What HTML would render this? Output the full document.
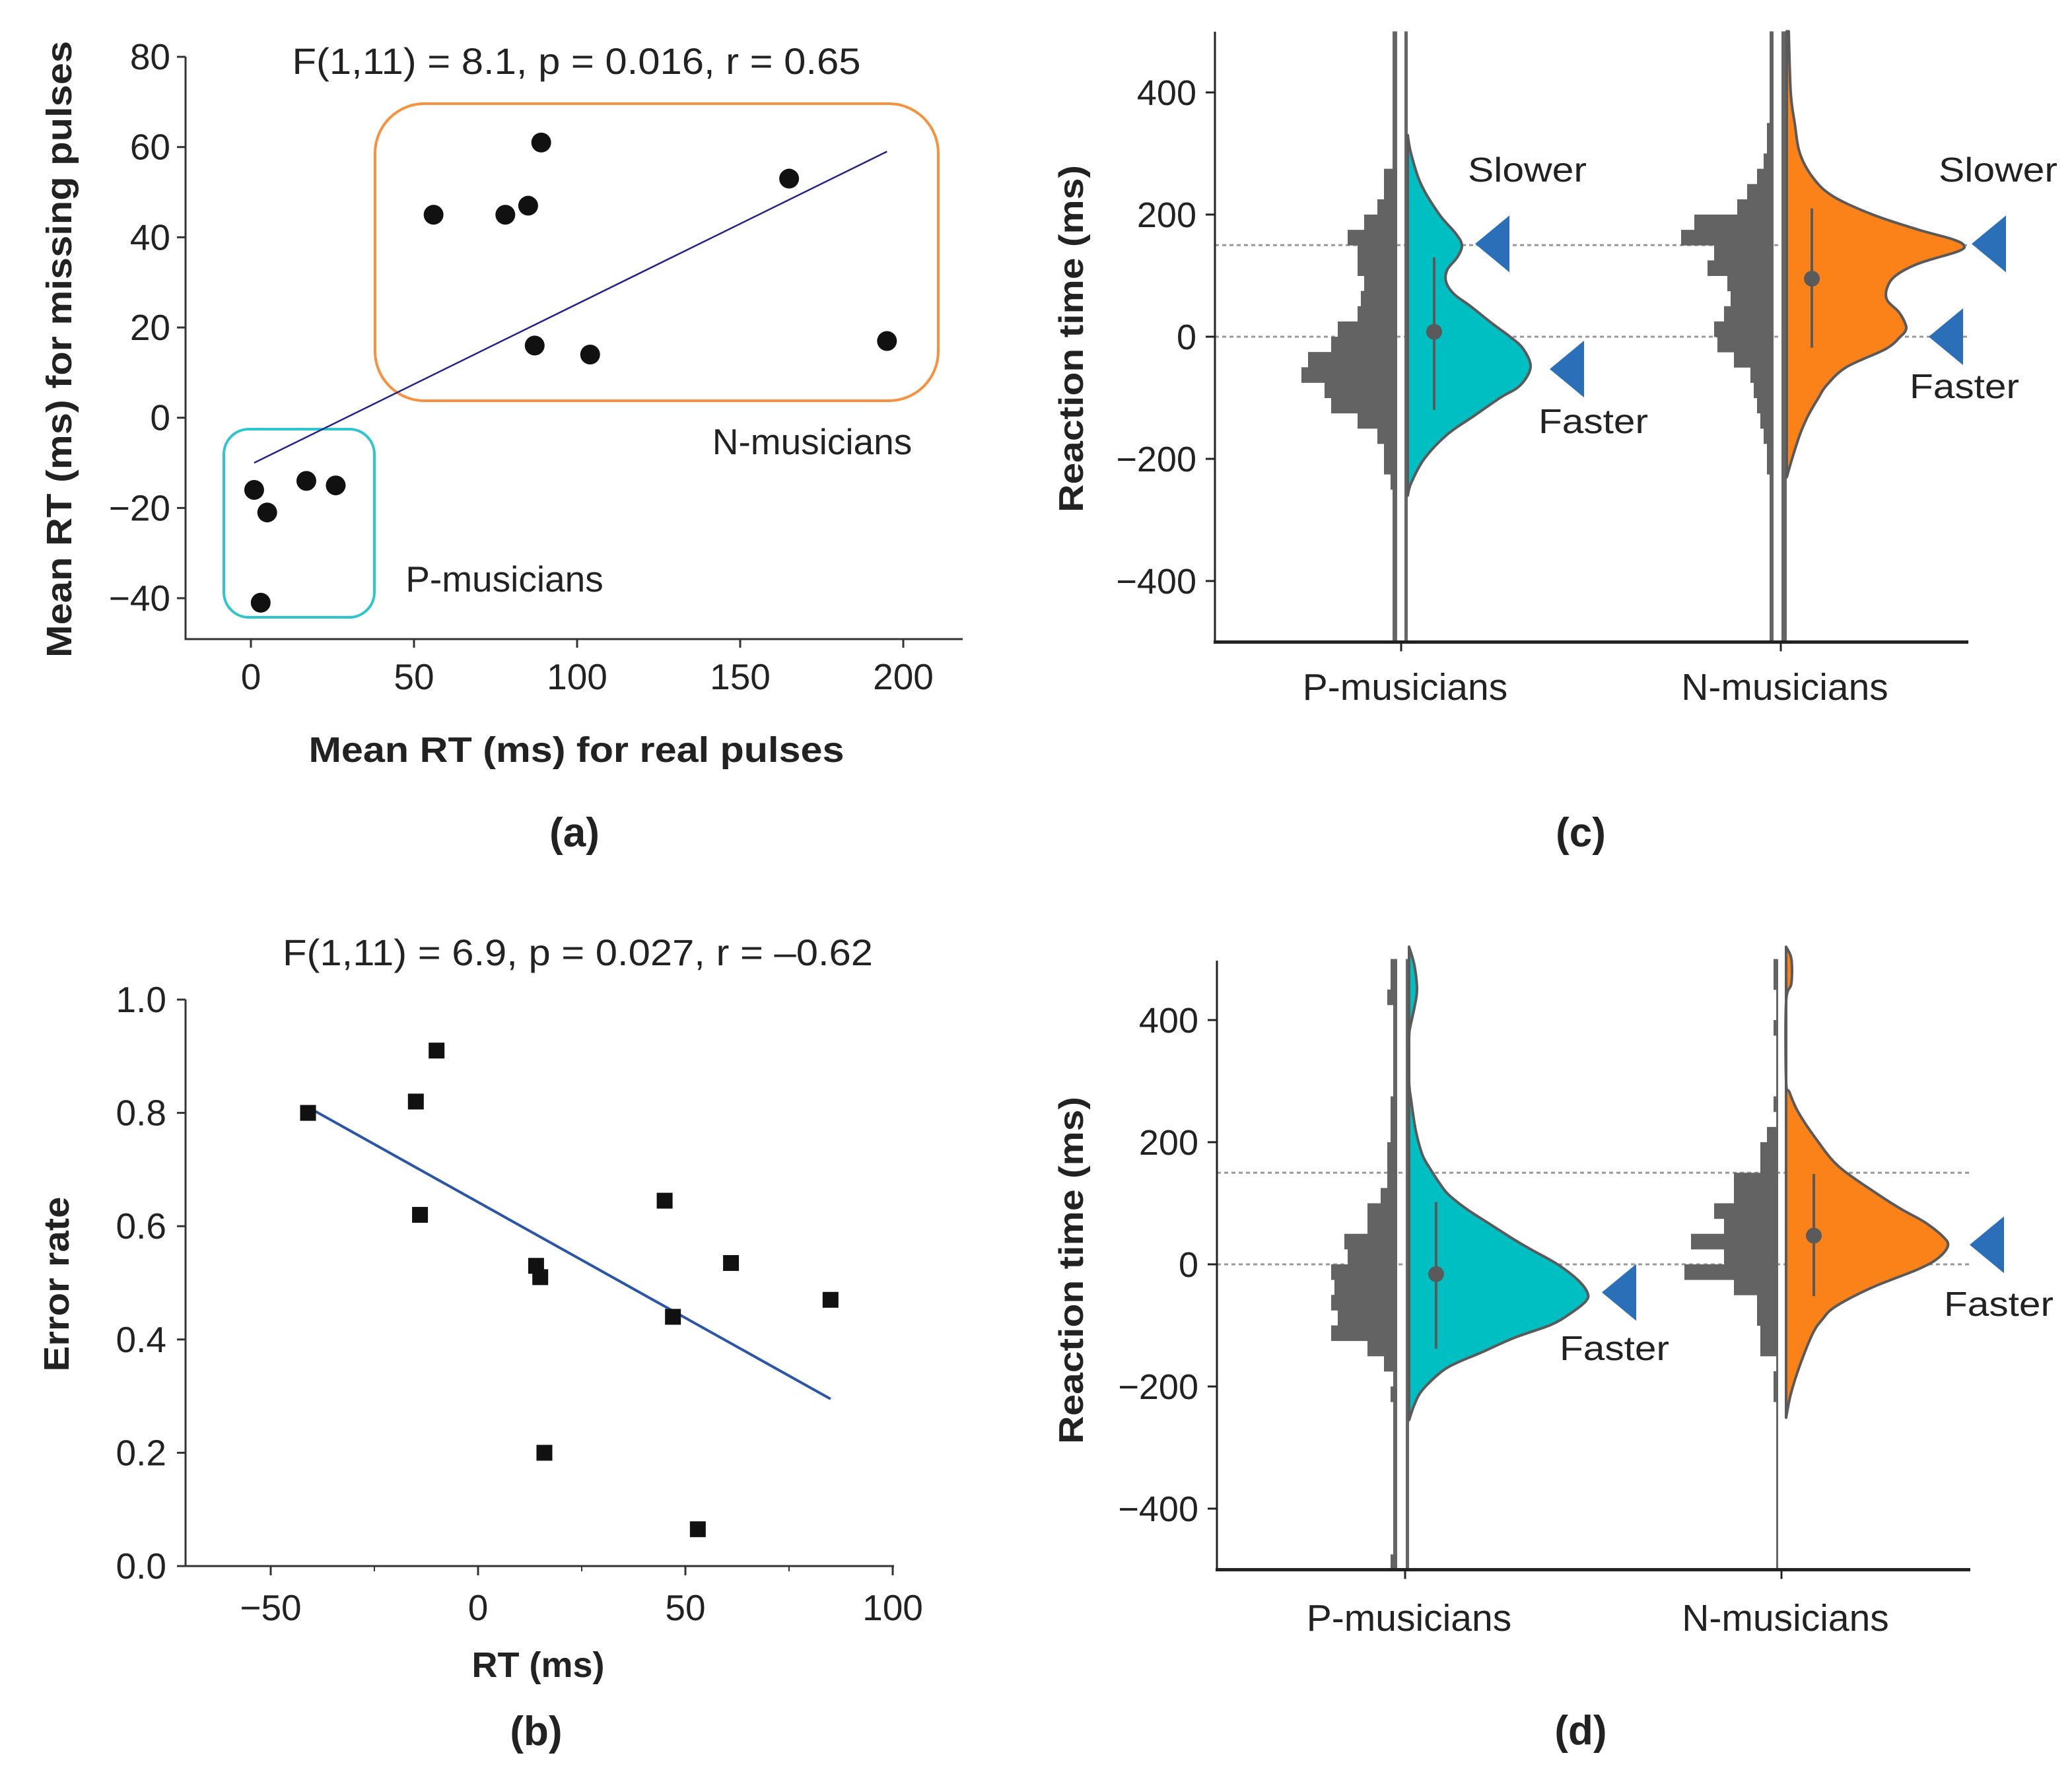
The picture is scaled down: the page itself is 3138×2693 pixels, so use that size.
<!DOCTYPE html>
<html><head><meta charset="utf-8">
<style>
html,body{margin:0;padding:0;background:#fff;}
svg{display:block;font-family:"Liberation Sans",Arial,sans-serif;}
</style></head>
<body>
<svg id="fig" width="3138" height="2693" viewBox="0 0 3138 2693" xmlns="http://www.w3.org/2000/svg">
</svg>
<script>
// ---------- Panel (a) data ----------
const aX = [1, 5, 17, 26, 3, 56, 78, 85, 89, 87, 104, 165, 195];
const aY = [-16, -21, -14, -15, -41, 45, 45, 47, 61, 16, 14, 53, 17];
const aLineX = [1, 195];
const aLineY = [-10, 59];
const aXTicks = [0, 50, 100, 150, 200];
const aYTicks = [80, 60, 40, 20, 0, -20, -40];
// ---------- Panel (b) data ----------
const bX = [-41, -15, -14, -10, 14, 15, 16, 45, 47, 53, 61, 85];
const bY = [0.80, 0.82, 0.62, 0.91, 0.53, 0.51, 0.20, 0.645, 0.44, 0.065, 0.535, 0.47];
const bLineX = [-41, 85];
const bLineY = [0.81, 0.295];
const bXTicks = [-50, 0, 50, 100];
const bXMinor = [-25, 25, 75];
const bYTicks = [0.0, 0.2, 0.4, 0.6, 0.8, 1.0];
const bYLabels = ["0.0", "0.2", "0.4", "0.6", "0.8", "1.0"];
// ---------- Panels (c),(d) data ----------
const rtTicks = [400, 200, 0, -200, -400];
const groups = ["P-musicians", "N-musicians"];
const binStarts = [-500,-475,-450,-425,-400,-375,-350,-325,-300,-275,-250,-225,-200,-175,-150,-125,-100,-75,-50,-25,0,25,50,75,100,125,150,175,200,225,250,275,300,325,350,375,400,425,450,475];
// histogram counts
const cPHist = [0,0,0,0,0,0,0,0,0,0,2,4,4,6,12,20,22,29,27,20,18,12,11,10,12,12,15,10,6,4,4,0,0,0,0,0,0,0,0,0];
const cNHist = [0,0,0,0,0,0,0,0,0,0,0,2,2,3,4,5,6,7,12,17,18,15,13,14,20,18,28,24,11,8,5,3,2,2,1,1,1,1,1,1];
const dPHist = [2,0,0,0,0,0,0,0,0,0,0,2,0,4,9,20,18,20,19,20,15,16,9,9,5,3,3,3,2,2,2,0,0,0,0,0,0,3,2,2];
const dNHist = [0,0,0,0,0,0,0,0,0,0,0,1,1,0,5,5,6,6,13,28,16,26,16,19,13,13,5,5,3,0,1,0,0,0,0,1,0,0,1,1];
// densities (half-violin widths, relative)
const cPDensV = [330,300,250,200,170,150,130,110,90,70,50,20,0,-20,-50,-80,-100,-130,-160,-200,-240,-260];
const cPDens  = [0,0.05,0.2,0.48,0.72,0.82,0.75,0.6,0.58,0.7,0.95,1.3,1.55,1.75,1.86,1.7,1.4,1.0,0.6,0.25,0.05,0];
const cNDensV = [500,400,350,300,260,230,200,175,160,150,140,120,100,80,60,40,20,10,0,-20,-50,-80,-100,-130,-160,-200,-230];
const cNDens  = [0.03,0.06,0.12,0.2,0.4,0.7,1.3,2.0,2.5,2.68,2.6,2.0,1.65,1.52,1.52,1.7,1.8,1.8,1.72,1.5,0.9,0.6,0.48,0.32,0.2,0.08,0];
const dPDensV = [520,490,450,420,390,370,300,270,220,180,160,130,114,90,69,40,23,0,-25,-46,-60,-80,-99,-120,-145,-160,-175,-206,-230,-255];
const dPDens  = [0,0.08,0.12,0.08,0.02,0,0,0.03,0.1,0.2,0.3,0.48,0.6,0.88,1.18,1.6,1.87,2.25,2.55,2.7,2.68,2.45,2.15,1.6,1.08,0.75,0.5,0.2,0.08,0];
const dNDensV = [520,500,460,430,300,282,250,206,160,114,90,69,45,30,10,-8,-38,-69,-90,-114,-168,-213,-251];
const dNDens  = [0,0.08,0.08,0,0,0.05,0.18,0.45,0.8,1.4,1.75,2.1,2.38,2.45,2.3,2.0,1.3,0.75,0.55,0.4,0.2,0.07,0];
const cMean = [8, 95], cLo = [-120, -18], cHi = [130, 210];
const dMean = [-16, 47], dLo = [-138, -52], dHi = [102, 148];

const NS = "http://www.w3.org/2000/svg";
const svg = document.getElementById("fig");
function el(tag, attrs, parent) {
  const e = document.createElementNS(NS, tag);
  for (const k in attrs) e.setAttribute(k, attrs[k]);
  (parent || svg).appendChild(e);
  return e;
}
function txt(str, attrs, parent) { const t = el("text", attrs, parent); t.textContent = str; return t; }
const TC = "#222";

// ================= Panel (a) =================
const gA = el("g", {});


const ax = v => 380 + v * (1368 - 380) / 200;
const ay = v => 632.7 - v * 6.833;
let e;
e = el("path", {d:"M281 86 V968 H1458", fill:"none", stroke:"#333", "stroke-width":3}, gA);
 
aYTicks.forEach(v => {
  el("line", {x1:268, x2:281, y1:ay(v), y2:ay(v), stroke:"#333", "stroke-width":3}, gA);
  e = txt(v < 0 ? "\u2212" + (-v) : String(v), {x:258, y:ay(v) + 19, "font-size":55, "text-anchor":"end", fill:TC}, gA);
   
});
aXTicks.forEach(v => {
  el("line", {x1:ax(v), x2:ax(v), y1:968, y2:981, stroke:"#333", "stroke-width":3}, gA);
  e = txt(String(v), {x:ax(v), y:1044, "font-size":55, "text-anchor":"middle", fill:TC}, gA);
   
});
e = el("rect", {x:568, y:157, width:853, height:450, rx:75, fill:"none", stroke:"#f7913d", "stroke-width":4}, gA);
 
e = el("rect", {x:339, y:650, width:228, height:285, rx:38, fill:"none", stroke:"#2cc6cc", "stroke-width":4}, gA);
 
e = el("line", {x1:ax(aLineX[0]), y1:ay(aLineY[0]), x2:ax(aLineX[1]), y2:ay(aLineY[1]), stroke:"#22228c", "stroke-width":2.5}, gA);
 
aX.forEach((x, i) => {
  const c = el("circle", {cx:ax(x), cy:ay(aY[i]), r:15, fill:"#111"}, gA);
  
  
});
e = txt("F(1,11) = 8.1, p = 0.016, r = 0.65", {x:873, y:112, "font-size":56, "text-anchor":"middle", fill:TC, textLength:861, lengthAdjust:"spacingAndGlyphs"}, gA);
 
e = txt("N-musicians", {x:1230, y:688, "font-size":55, "text-anchor":"middle", fill:TC}, gA);
 
e = txt("P-musicians", {x:764, y:896, "font-size":55, "text-anchor":"middle", fill:TC}, gA);
 
e = txt("Mean RT (ms) for missing pulses", {x:0, y:0, "font-size":54, "font-weight":"bold", "text-anchor":"middle", fill:TC, textLength:934, lengthAdjust:"spacingAndGlyphs", transform:"translate(108 529) rotate(-90)"}, gA);
 
e = txt("Mean RT (ms) for real pulses", {x:873, y:1154, "font-size":54, "font-weight":"bold", "text-anchor":"middle", fill:TC, textLength:811, lengthAdjust:"spacingAndGlyphs"}, gA);
 
e = txt("(a)", {x:870, y:1282, "font-size":62, "font-weight":"bold", "text-anchor":"middle", fill:TC}, gA);
 

// ================= Panel (b) =================
const gB = el("g", {});


const bx = v => 724 + v * 6.28;
const by = v => 2372 - v * (2372 - 1514);
e = el("path", {d:"M281 1514 V2372 H1354", fill:"none", stroke:"#333", "stroke-width":3}, gB);
 
bYTicks.forEach((v, i) => {
  el("line", {x1:268, x2:281, y1:by(v), y2:by(v), stroke:"#333", "stroke-width":3}, gB);
  e = txt(bYLabels[i], {x:252, y:by(v) + 19, "font-size":55, "text-anchor":"end", fill:TC}, gB);
   
});
bXTicks.forEach(v => {
  el("line", {x1:bx(v), x2:bx(v), y1:2372, y2:2386, stroke:"#333", "stroke-width":3}, gB);
  e = txt(v < 0 ? "\u2212" + (-v) : String(v), {x:bx(v), y:2454, "font-size":55, "text-anchor":"middle", fill:TC}, gB);
   
});
bXMinor.forEach(v => { el("line", {x1:bx(v), x2:bx(v), y1:2372, y2:2380, stroke:"#333", "stroke-width":2}, gB); });
e = el("line", {x1:bx(bLineX[0]), y1:by(bLineY[0]), x2:bx(bLineX[1]), y2:by(bLineY[1]), stroke:"#2a55a8", "stroke-width":4}, gB);
 
bX.forEach((x, i) => {
  const r = el("rect", {x:bx(x) - 12, y:by(bY[i]) - 12, width:24, height:24, fill:"#111"}, gB);
  
  
});
e = txt("F(1,11) = 6.9, p = 0.027, r = \u20130.62", {x:875, y:1462, "font-size":56, "text-anchor":"middle", fill:TC, textLength:894, lengthAdjust:"spacingAndGlyphs"}, gB);
 
e = txt("Error rate", {x:0, y:0, "font-size":54, "font-weight":"bold", "text-anchor":"middle", fill:TC, textLength:265, lengthAdjust:"spacingAndGlyphs", transform:"translate(104 1945) rotate(-90)"}, gB);
 
e = txt("RT (ms)", {x:815, y:2540, "font-size":54, "font-weight":"bold", "text-anchor":"middle", fill:TC}, gB);
 
e = txt("(b)", {x:812, y:2643, "font-size":62, "font-weight":"bold", "text-anchor":"middle", fill:TC}, gB);
 

// smooth path through points (Catmull-Rom -> cubic Bezier)
function smoothPath(pts) {
  let d = "";
  for (let i = 0; i < pts.length - 1; i++) {
    const p0 = pts[Math.max(0, i - 1)], p1 = pts[i], p2 = pts[i + 1], p3 = pts[Math.min(pts.length - 1, i + 2)];
    const c1x = p1[0] + (p2[0] - p0[0]) / 6, c1y = p1[1] + (p2[1] - p0[1]) / 6;
    const c2x = p2[0] - (p3[0] - p1[0]) / 6, c2y = p2[1] - (p3[1] - p1[1]) / 6;
    d += " C" + c1x + " " + c1y + " " + c2x + " " + c2y + " " + p2[0] + " " + p2[1];
  }
  return d;
}

// ================= Raincloud panels =================
function raincloud(cfg) {
  const g = el("g", {});
  
  
  const y = v => cfg.y0 - v * 0.925;
  const top = y(500), bot = y(-500);
  cfg.refs.forEach(v => {
    const l = el("line", {x1:cfg.axL, x2:cfg.axR, y1:y(v), y2:y(v), stroke:"#999", "stroke-width":3, "stroke-dasharray":"6 5"}, g);
    
    
  });
  cfg.sets.forEach((s, gi) => {
    s.strips.forEach(st => { el("rect", {x:st[0], y:top, width:st[1] - st[0], height:bot - top, fill:"#666"}, g); });
    s.hist.forEach((c, i) => {
      if (!c) return;
      const b0 = binStarts[i];
      const r = el("rect", {x:s.hb - c * 5, y:y(b0 + 25), width:c * 5, height:y(b0) - y(b0 + 25) + 0.5, fill:"#636363"}, g);
      
      
    });
    const pts = s.dv.map((v, i) => [s.vb + s.dd[i] * 100, y(v)]);
    let d = "M" + s.vb + " " + y(s.dv[0]) + " L" + pts[0][0] + " " + pts[0][1];
    d += smoothPath(pts);
    d += " L" + s.vb + " " + y(s.dv[s.dv.length - 1]) + " Z";
    const p = el("path", {d:d, fill:s.color, stroke:"#5a5a5a", "stroke-width":4, "stroke-linejoin":"round"}, g);
    
    
    const w = el("line", {x1:s.wx, x2:s.wx, y1:y(s.hi), y2:y(s.lo), stroke:"#5a5a5a", "stroke-width":4}, g);
    
    
    const m = el("circle", {cx:s.wx, cy:y(s.mean), r:12, fill:"#5a5a5a"}, g);
    
    
    el("line", {x1:cfg.ticks[gi], x2:cfg.ticks[gi], y1:bot, y2:bot + 14, stroke:"#222", "stroke-width":3}, g);
    const lb = txt(groups[gi], {x:cfg.ticks[gi] + 6, y:cfg.xlabY, "font-size":57, "text-anchor":"middle", fill:TC}, g);
    
    
  });
  el("line", {x1:cfg.axL, x2:cfg.axL, y1:cfg.axTop, y2:bot, stroke:"#222", "stroke-width":3}, g);
  el("line", {x1:cfg.axL - 2, x2:cfg.axR, y1:bot, y2:bot, stroke:"#222", "stroke-width":5}, g);
  rtTicks.forEach(v => {
    el("line", {x1:cfg.axL - 14, x2:cfg.axL, y1:y(v), y2:y(v), stroke:"#222", "stroke-width":3}, g);
    const t = txt(v < 0 ? "\u2212" + (-v) : String(v), {x:cfg.axL - 28, y:y(v) + 19, "font-size":54, "text-anchor":"end", fill:TC}, g);
    
    
  });
  const yt = txt("Reaction time (ms)", {x:0, y:0, "font-size":52, "font-weight":"bold", "text-anchor":"middle", fill:TC, textLength:526, lengthAdjust:"spacingAndGlyphs", transform:"translate(1640 " + cfg.ylabC + ") rotate(-90)"}, g);
  
  
  cfg.arrows.forEach(a => {
    const tip = a[0], v = a[1];
    const tr = el("polygon", {points: tip + "," + y(v) + " " + (tip + 52) + "," + (y(v) - 43) + " " + (tip + 52) + "," + (y(v) + 43), fill:"#2b6fb9"}, g);
    
    
  });
  cfg.notes.forEach(n => {
    const t = txt(n[0], {x:n[1], y:n[2] + 18, "font-size":52, "text-anchor":"middle", fill:TC, textLength:n[0] === "Slower" ? 180 : 166, lengthAdjust:"spacingAndGlyphs"}, g);
    
    
  });
  const pl = txt(cfg.label, {x:2394, y:cfg.labY, "font-size":62, "font-weight":"bold", "text-anchor":"middle", fill:TC}, g);
  
  
}

raincloud({
  name:"panel-c", y0:510, axL:1840, axR:2981, axTop:48, ticks:[2122, 2697], xlabY:1060, ylabC:513,
  refs:[150, 0], label:"(c)", labY:1282,
  sets:[
    {hist:cPHist, hb:2116, vb:2132, strips:[[2109,2116],[2127,2132]], dv:cPDensV, dd:cPDens, color:"#00bfc2", wx:2172, mean:cMean[0], lo:cLo[0], hi:cHi[0]},
    {hist:cNHist, hb:2686, vb:2706, strips:[[2680,2686],[2698,2706]], dv:cNDensV, dd:cNDens, color:"#fb8219", wx:2744, mean:cMean[1], lo:cLo[1], hi:cHi[1]}
  ],
  arrows:[[2234, 152], [2347, -53], [2986, 152], [2921, 0]],
  notes:[["Slower", 2313, 257], ["Faster", 2413, 638], ["Slower", 3026, 257], ["Faster", 2975, 585]]
});
raincloud({
  name:"panel-d", y0:1915, axL:1843, axR:2984, axTop:1455, ticks:[2128, 2698], xlabY:2470, ylabC:1924,
  refs:[150, 0], label:"(d)", labY:2642,
  sets:[
    {hist:dPHist, hb:2116, vb:2134, strips:[[2110,2116],[2129,2134]], dv:dPDensV, dd:dPDens, color:"#00bfc2", wx:2175, mean:dMean[0], lo:dLo[0], hi:dHi[0]},
    {hist:dNHist, hb:2691, vb:2705, strips:[[2690,2693]], dv:dNDensV, dd:dNDens, color:"#fb8219", wx:2747, mean:dMean[1], lo:dLo[1], hi:dHi[1]}
  ],
  arrows:[[2426, -46], [2983, 32]],
  notes:[["Faster", 2445, 2042], ["Faster", 3027, 1975]]
});
</script>
</body></html>
